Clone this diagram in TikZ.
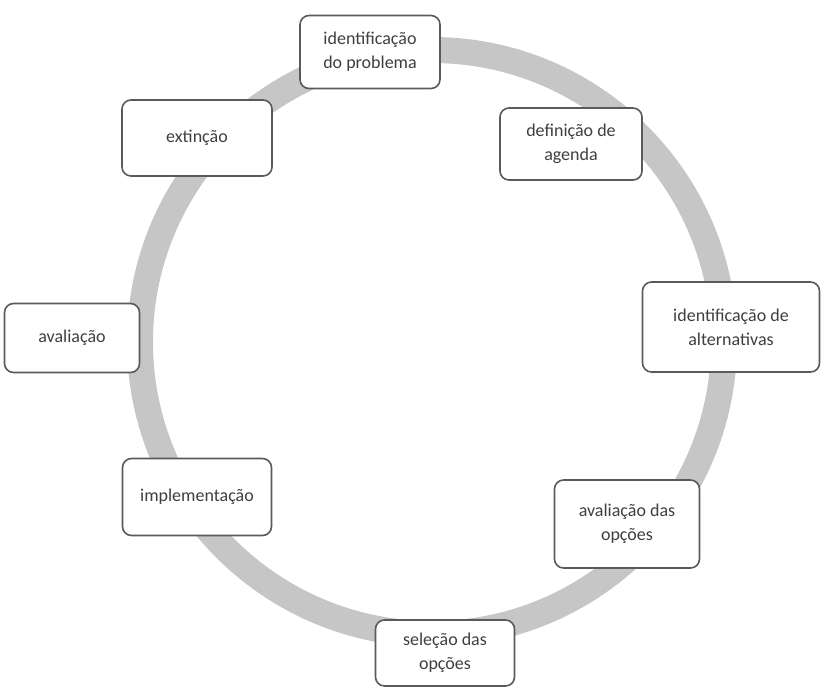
\documentclass[tikz,border=0pt]{standalone}
\usepackage{fontspec}
\setmainfont{Carlito}
\definecolor{anelcinza}{HTML}{C6C6C6}
\definecolor{bordacinza}{HTML}{5A5A5A}
\definecolor{textocinza}{HTML}{3F3F3F}
\tikzset{
    etapa/.style={draw=bordacinza,line width=1.6pt,rounded corners=9pt,fill=white,
        align=center,text=textocinza,inner sep=2pt},
    anel/.style={anelcinza,line width=26pt}
}
\begin{document}
\begin{tikzpicture}[x=1pt,y=-1pt,every node/.style={font=\fontsize{18}{24}\selectfont}]
        \useasboundingbox (0,0) rectangle (827,686);
        \coordinate (centro) at (432,342);
        \draw[anel] (centro) circle (292pt);
        \node[etapa,minimum width=140pt,minimum height=73pt] (idprob) at (370,52) {identificação\\do problema};
        \node[etapa,minimum width=142pt,minimum height=72pt] (agenda) at (571,144) {definição de\\agenda};
        \node[etapa,minimum width=177pt,minimum height=90pt] (altern) at (731,327) {identificação de\\alternativas};
        \node[etapa,minimum width=145pt,minimum height=88pt] (avalop) at (627,524) {avaliação das\\opções};
        \node[etapa,minimum width=139pt,minimum height=66pt] (selecao) at (445,653) {seleção das\\opções};
        \node[etapa,minimum width=149pt,minimum height=77pt] (implem) at (197,497) {implementação};
        \node[etapa,minimum width=135pt,minimum height=69pt] (avaliacao) at (72,338) {avaliação};
        \node[etapa,minimum width=150pt,minimum height=76pt] (extincao) at (197,138) {extinção};
    \end{tikzpicture}
\end{document}
